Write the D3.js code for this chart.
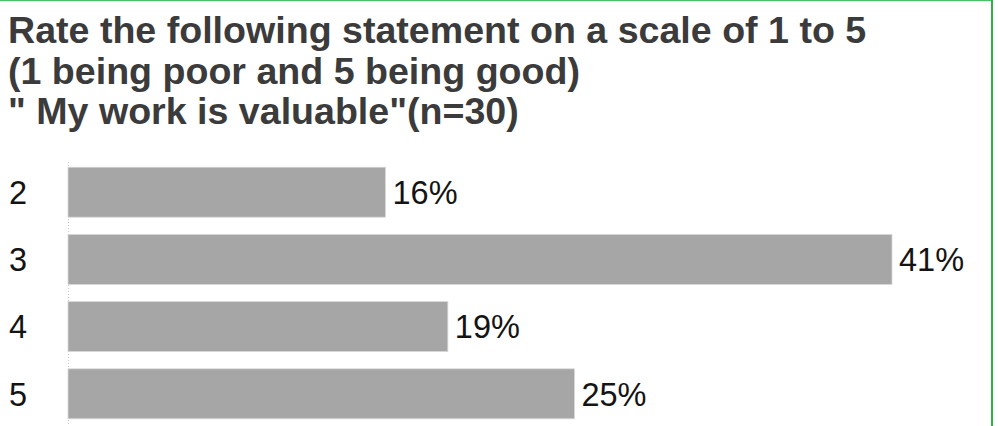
<!DOCTYPE html>
<html>
<head>
<meta charset="utf-8">
<script src="https://cdn.jsdelivr.net/npm/d3@7"></script>
<style>
  body { margin: 0; background: #fff; }
  svg { display: block; font-family: "Liberation Sans", Arial, sans-serif; }
</style>
</head>
<body>
<div id="chart"></div>
<script>
let width = 998;
let height = 426;

// data
const titleLines = [
  "Rate the following statement on a scale of 1 to 5",
  "(1 being poor and 5 being good)",
  "\" My work is valuable\"(n=30)"
];
const ratings = ["2", "3", "4", "5"];
const percents = [15.8, 41.0, 18.9, 25.2];

let svg = d3
  .select("#chart")
  .append("svg")
  .attr("width", width)
  .attr("height", height);

// green frame (top + right edges show in the crop)
svg.append("line")
  .attr("x1", 0).attr("x2", 993).attr("y1", 0.5).attr("y2", 0.5)
  .attr("stroke", "#4cbe6c").attr("stroke-width", 1.5);
svg.append("line")
  .attr("x1", 992).attr("x2", 992).attr("y1", 0).attr("y2", height)
  .attr("stroke", "#2fb04e").attr("stroke-width", 2);

// title
svg.append("g")
  .selectAll("text")
  .data(titleLines)
  .enter()
  .append("text")
  .attr("x", 8)
  .attr("y", (d, i) => 43 + i * 40.5)
  .attr("fill", "#3b3b3b")
  .style("font-size", "37.6px")
  .style("font-weight", "bold")
  .text(d => d);

let x = d3.scaleLinear().domain([0, 41]).range([68, 892]);
let y = d3.scaleBand().domain(ratings).range([158.6, 427.4]).paddingInner(0.256).paddingOuter(0.128);

// dotted axis line
svg.append("line")
  .attr("x1", 68.5).attr("x2", 68.5)
  .attr("y1", 162).attr("y2", height)
  .attr("stroke", "#c8c8c8")
  .attr("stroke-dasharray", "1,2");

let rows = svg.append("g")
  .selectAll("g")
  .data(ratings.map((r, i) => ({ r: r, v: percents[i] })))
  .enter()
  .append("g");

rows.append("rect")
  .attr("x", x(0))
  .attr("y", d => y(d.r))
  .attr("width", d => x(d.v) - x(0))
  .attr("height", y.bandwidth())
  .attr("fill", "#a6a6a6")
  .attr("stroke", "#d9d9d9")
  .attr("stroke-width", 0.8);

rows.append("text")
  .attr("x", 9)
  .attr("y", d => y(d.r) + y.bandwidth() / 2)
  .attr("dy", "0.36em")
  .style("font-size", "32.5px")
  .attr("fill", "#141414")
  .text(d => d.r);

rows.append("text")
  .attr("x", d => x(d.v) + 7)
  .attr("y", d => y(d.r) + y.bandwidth() / 2)
  .attr("dy", "0.36em")
  .style("font-size", "32.5px")
  .attr("fill", "#141414")
  .text(d => d3.format(".0f")(d.v) + "%");
</script>
</body>
</html>
